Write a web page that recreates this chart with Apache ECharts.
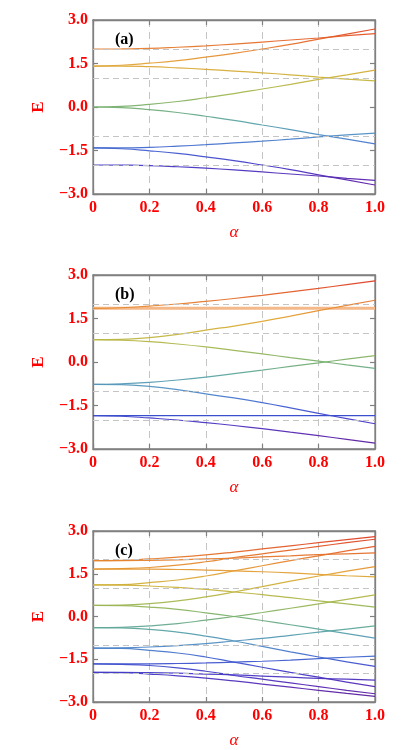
<!DOCTYPE html>
<html>
<head>
<meta charset="utf-8">
<script src="https://cdn.jsdelivr.net/npm/echarts@6/dist/echarts.min.js"></script>
<style>
html, body { margin: 0; padding: 0; background: #fff; }
#main { width: 417px; height: 750px; }
</style>
</head>
<body>
<div id="main"></div>
<script>
// x 轴取样点
var alpha = [0, 0.1, 0.2, 0.3, 0.4, 0.5, 0.6, 0.7, 0.8, 0.9, 1.0];

// (a) 8 条能级
var a1 = [2.00, 2.005, 2.02, 2.06, 2.11, 2.17, 2.24, 2.31, 2.38, 2.46, 2.53];
var a2 = [1.41, 1.44, 1.51, 1.60, 1.72, 1.85, 2.00, 2.16, 2.34, 2.51, 2.69];
var a3 = [1.41, 1.41, 1.39, 1.35, 1.30, 1.24, 1.18, 1.11, 1.03, 0.96, 0.90];
var a4 = [0.00, 0.02, 0.09, 0.19, 0.32, 0.46, 0.62, 0.78, 0.95, 1.11, 1.27];
var a5 = [0.00, -0.02, -0.09, -0.19, -0.32, -0.46, -0.62, -0.78, -0.95, -1.11, -1.27];
var a6 = [-1.41, -1.41, -1.39, -1.35, -1.30, -1.24, -1.18, -1.11, -1.03, -0.96, -0.90];
var a7 = [-1.41, -1.44, -1.51, -1.60, -1.72, -1.85, -2.00, -2.16, -2.34, -2.51, -2.69];
var a8 = [-2.00, -2.005, -2.02, -2.06, -2.11, -2.17, -2.24, -2.31, -2.38, -2.46, -2.53];

// (b)，b1 / b8 为水平线
var b1 = [1.85, 1.85, 1.85, 1.85, 1.85, 1.85, 1.85, 1.85, 1.85, 1.85, 1.85];
var b2 = [1.85, 1.87, 1.93, 2.00, 2.09, 2.19, 2.30, 2.42, 2.54, 2.67, 2.80];
var b3 = [0.77, 0.78, 0.84, 0.95, 1.10, 1.24, 1.40, 1.58, 1.77, 1.95, 2.13];
var b4 = [0.77, 0.75, 0.70, 0.62, 0.52, 0.40, 0.28, 0.15, 0.03, -0.10, -0.22];
var b5 = [-0.77, -0.75, -0.70, -0.62, -0.52, -0.40, -0.28, -0.15, -0.03, 0.10, 0.22];
var b6 = [-0.77, -0.78, -0.84, -0.95, -1.10, -1.24, -1.40, -1.58, -1.77, -1.95, -2.13];
var b7 = [-1.85, -1.87, -1.93, -2.00, -2.09, -2.19, -2.30, -2.42, -2.54, -2.67, -2.80];
var b8 = [-1.85, -1.85, -1.85, -1.85, -1.85, -1.85, -1.85, -1.85, -1.85, -1.85, -1.85];

// (c) 16 条
var c1 = [1.96, 1.97, 2.02, 2.08, 2.16, 2.26, 2.37, 2.48, 2.59, 2.70, 2.80];
var c2 = [1.66, 1.68, 1.72, 1.80, 1.92, 2.07, 2.20, 2.33, 2.46, 2.59, 2.71];
var c3 = [1.96, 1.96, 1.97, 1.99, 2.02, 2.05, 2.09, 2.13, 2.17, 2.20, 2.23];
var c4 = [1.11, 1.12, 1.19, 1.28, 1.42, 1.60, 1.78, 1.96, 2.13, 2.30, 2.46];
var c5 = [1.66, 1.66, 1.66, 1.65, 1.63, 1.60, 1.57, 1.53, 1.48, 1.43, 1.39];
var c6 = [0.39, 0.40, 0.45, 0.55, 0.69, 0.86, 1.05, 1.24, 1.42, 1.59, 1.75];
var c7 = [1.11, 1.10, 1.07, 1.02, 0.95, 0.86, 0.77, 0.66, 0.55, 0.44, 0.33];
var c8 = [0.39, 0.38, 0.33, 0.25, 0.13, 0.00, -0.14, -0.29, -0.44, -0.60, -0.76];
var c9 = [-0.39, -0.38, -0.33, -0.25, -0.13, 0.00, 0.14, 0.29, 0.44, 0.60, 0.76];
var c10 = [-1.11, -1.10, -1.07, -1.02, -0.95, -0.86, -0.77, -0.66, -0.55, -0.44, -0.33];
var c11 = [-0.39, -0.40, -0.45, -0.55, -0.69, -0.86, -1.05, -1.24, -1.42, -1.59, -1.75];
var c12 = [-1.66, -1.66, -1.66, -1.65, -1.63, -1.60, -1.57, -1.53, -1.48, -1.43, -1.39];
var c13 = [-1.11, -1.12, -1.19, -1.28, -1.42, -1.60, -1.78, -1.96, -2.13, -2.30, -2.46];
var c14 = [-1.96, -1.96, -1.97, -1.99, -2.02, -2.05, -2.09, -2.13, -2.17, -2.20, -2.23];
var c15 = [-1.66, -1.68, -1.72, -1.80, -1.92, -2.07, -2.20, -2.33, -2.46, -2.59, -2.71];
var c16 = [-1.96, -1.97, -2.02, -2.08, -2.16, -2.26, -2.37, -2.48, -2.59, -2.70, -2.80];

// 虚线参考位置
var refLines = [2, 1, -1, -2];
var panelLabels = ['(a)', '(b)', '(c)'];
var panelCurves = [
  [a1, a2, a3, a4, a5, a6, a7, a8],
  [b1, b2, b3, b4, b5, b6, b7, b8],
  [c1, c2, c3, c4, c5, c6, c7, c8, c9, c10, c11, c12, c13, c14, c15, c16]
];

var RED = '#ff0000';
var FRAME = '#808080';
var DASH = '#c4c4c4';
var SERIF = '"Liberation Serif", "DejaVu Serif", serif';
var gridTop = [20, 275, 531];

var grids = [], xAxes = [], yAxes = [], series = [], titles = [], curveIdx = [];

panelCurves.forEach(function (curves, k) {
  grids.push({ left: 93, width: 282, top: gridTop[k], height: 174,
    show: true, borderColor: FRAME, borderWidth: 1.3 });

  titles.push({ text: panelLabels[k], left: 110, top: gridTop[k] + 7,
    textStyle: { fontFamily: SERIF, fontWeight: 'bold', fontSize: 16, color: '#000' } });

  var tick = { inside: true, length: 5, lineStyle: { color: FRAME, width: 1.2 } };
  var line = { show: true, onZero: false, lineStyle: { color: FRAME, width: 1.3 } };

  xAxes.push({
    gridIndex: k, type: 'value', min: 0, max: 1, interval: 0.2,
    axisLine: line, axisTick: tick,
    axisLabel: { color: RED, fontFamily: SERIF, fontWeight: 'bold', fontSize: 16, margin: 6,
      formatter: function (v) { return v === 0 ? '0' : v.toFixed(1); } },
    splitLine: { show: true, showMinLine: false, showMaxLine: false,
      lineStyle: { color: DASH, type: [7, 5], width: 1 } },
    name: 'α', nameLocation: 'middle', nameGap: 30,
    nameTextStyle: { color: RED, fontFamily: SERIF, fontStyle: 'italic', fontSize: 17 }
  });
  xAxes.push({
    gridIndex: k, type: 'value', position: 'top', min: 0, max: 1, interval: 0.2,
    axisLine: line, axisTick: tick, axisLabel: { show: false }, splitLine: { show: false }
  });

  yAxes.push({
    gridIndex: k, type: 'value', min: -3, max: 3, interval: 1.5,
    axisLine: line, axisTick: tick,
    axisLabel: { color: RED, fontFamily: SERIF, fontWeight: 'bold', fontSize: 16, margin: 5,
      formatter: function (v) { return v.toFixed(1).replace('-', '\u2212'); } },
    splitLine: { show: false },
    name: 'E', nameLocation: 'middle', nameGap: 46,
    nameTextStyle: { color: RED, fontFamily: SERIF, fontWeight: 'bold', fontSize: 17 }
  });
  yAxes.push({
    gridIndex: k, type: 'value', position: 'right', min: -3, max: 3, interval: 1.5,
    axisLine: line, axisTick: tick, axisLabel: { show: false }, splitLine: { show: false }
  });

  // 水平虚线
  series.push({
    type: 'line', xAxisIndex: 2 * k, yAxisIndex: 2 * k, data: [], silent: true,
    markLine: { silent: true, symbol: ['none', 'none'], label: { show: false },
      lineStyle: { color: DASH, type: [6, 4], width: 1 },
      data: refLines.map(function (y) { return { yAxis: y }; }) }
  });

  curves.forEach(function (ys, j) {
    var s = {
      type: 'line', xAxisIndex: 2 * k, yAxisIndex: 2 * k, smooth: true,
      showSymbol: false, symbol: 'none', silent: true,
      lineStyle: { width: 1.2, opacity: 0.95 },
      data: alpha.map(function (x, i) { return [x, ys[i]]; })
    };
    // 水平线单独给颜色
    if (k === 1 && j === 0) {
      s.lineStyle = { width: 3, color: '#f5b888' };
    } else if (k === 1 && j === 7) {
      s.lineStyle = { width: 1.2, color: '#3a4fd0' };
    } else {
      curveIdx.push(series.length);
    }
    series.push(s);
  });
});

var myChart = echarts.init(document.getElementById('main'));
myChart.setOption({
  animation: false,
  title: titles,
  grid: grids,
  xAxis: xAxes,
  yAxis: yAxes,
  visualMap: {
    type: 'continuous', show: false, dimension: 1, min: -3, max: 3,
    seriesIndex: curveIdx,
    inRange: { color: ['#5a1890', '#5a26b0', '#4338c8', '#3f5fd0', '#4f8cc8', '#5aa5a5',
      '#78b070', '#a4b84e', '#cab43a', '#e3a334', '#e6802e', '#e25526', '#d92a22'] }
  },
  series: series
});
</script>
</body>
</html>
